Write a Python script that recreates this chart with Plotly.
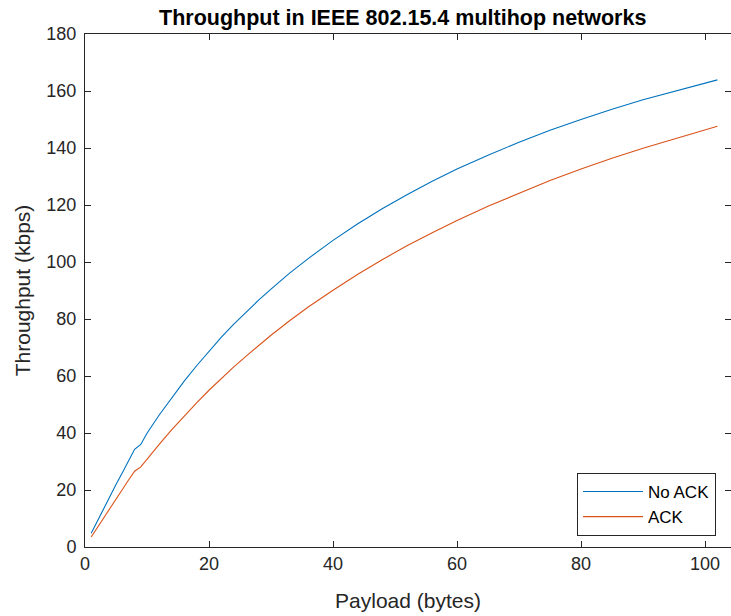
import plotly.graph_objects as go

# Payload sizes (bytes)
payload = [1, 2, 3, 4, 5, 6, 7, 8, 9, 10, 12, 14, 16, 18, 20, 22, 24, 26, 28, 30,
           33, 36, 40, 44, 48, 52, 56, 60, 65, 70, 75, 80, 85, 90, 95, 100, 102]

# Throughput (kbps) without acknowledgements
no_ack = [4.8, 9.2, 13.5, 17.7, 21.9, 26.0, 30.2, 34.3, 36.0, 39.9, 46.4, 52.5, 58.2,
          63.6, 68.7, 73.6, 78.2, 82.5, 86.6, 90.5, 96.1, 101.2, 107.6, 113.4, 118.8,
          123.7, 128.3, 132.6, 137.5, 142.0, 146.2, 150.0, 153.6, 156.9, 159.9, 162.8, 163.9]

# Throughput (kbps) with acknowledgements
ack = [3.5, 6.9, 10.3, 13.6, 16.9, 20.1, 23.4, 26.6, 28.1, 30.9, 36.1, 41.2, 46.0,
       50.6, 55.0, 59.2, 63.2, 67.0, 70.7, 74.3, 79.4, 84.2, 90.1, 95.7, 100.9,
       105.8, 110.3, 114.6, 119.6, 124.2, 128.6, 132.6, 136.4, 139.9, 143.2, 146.4, 147.6]

x_ticks = [0, 20, 40, 60, 80, 100]
y_ticks = [0, 20, 40, 60, 80, 100, 120, 140, 160, 180]

W, H = 731, 616
L, T, B, R = 85, 34, 69, 0
PW, PH = W - L - R, H - T - B
axis_col = "#262626"
font = "Liberation Sans, Arial, sans-serif"

fig = go.Figure()
fig.add_trace(go.Scatter(x=payload, y=no_ack, mode="lines", name="No ACK",
                         line=dict(color="#0072BD", width=1.1)))
fig.add_trace(go.Scatter(x=payload, y=ack, mode="lines", name="ACK", yaxis="y2",
                         line=dict(color="#D95319", width=1.1)))

fig.update_layout(
    width=W, height=H,
    margin=dict(l=L, r=R, t=T, b=B, pad=0, autoexpand=False),
    paper_bgcolor="white", plot_bgcolor="white",
    font=dict(family=font, color=axis_col, size=18),
    showlegend=True,
    legend=dict(x=(716 - L) / PW, y=(547 - 536) / PH,
                xanchor="right", yanchor="bottom",
                bgcolor="white", bordercolor=axis_col, borderwidth=1,
                font=dict(size=17, color="black", family=font),
                itemwidth=60, tracegroupgap=0),
    annotations=[
        dict(text="<b>Throughput in IEEE 802.15.4 multihop networks</b>",
             xref="paper", yref="paper", x=(402 - L) / PW, y=1,
             xanchor="center", yanchor="bottom", yshift=2, showarrow=False,
             font=dict(size=21.5, color="black", family=font)),
    ],
    yaxis2=dict(overlaying="y", side="right", matches="y", range=[0, 180],
                tickvals=y_ticks, ticks="inside", ticklen=6, tickcolor=axis_col,
                showticklabels=False, showline=False, showgrid=False, zeroline=False,
                automargin=False),
)

fig.update_xaxes(
    range=[0, PW / 6.2], tickvals=x_ticks, ticktext=[str(v) for v in x_ticks],
    ticks="inside", ticklen=6, tickcolor=axis_col, showline=True, linecolor=axis_col,
    linewidth=1, mirror="ticks", showgrid=False, zeroline=False, automargin=False,
    tickfont=dict(size=18, color=axis_col),
    title=dict(text="Payload (bytes)", font=dict(size=21, color=axis_col), standoff=20),
)
fig.update_layout(yaxis=dict(
    range=[0, 180], tickvals=y_ticks, ticktext=[str(v) for v in y_ticks],
    ticks="inside", ticklen=6, tickcolor=axis_col, showline=True, linecolor=axis_col,
    linewidth=1, mirror=False, showgrid=False, zeroline=False, automargin=False,
    tickfont=dict(size=18, color=axis_col), ticklabelstandoff=4,
    title=dict(text="Throughput (kbps)", font=dict(size=21, color=axis_col), standoff=10),
))

fig.write_html("out.html")
